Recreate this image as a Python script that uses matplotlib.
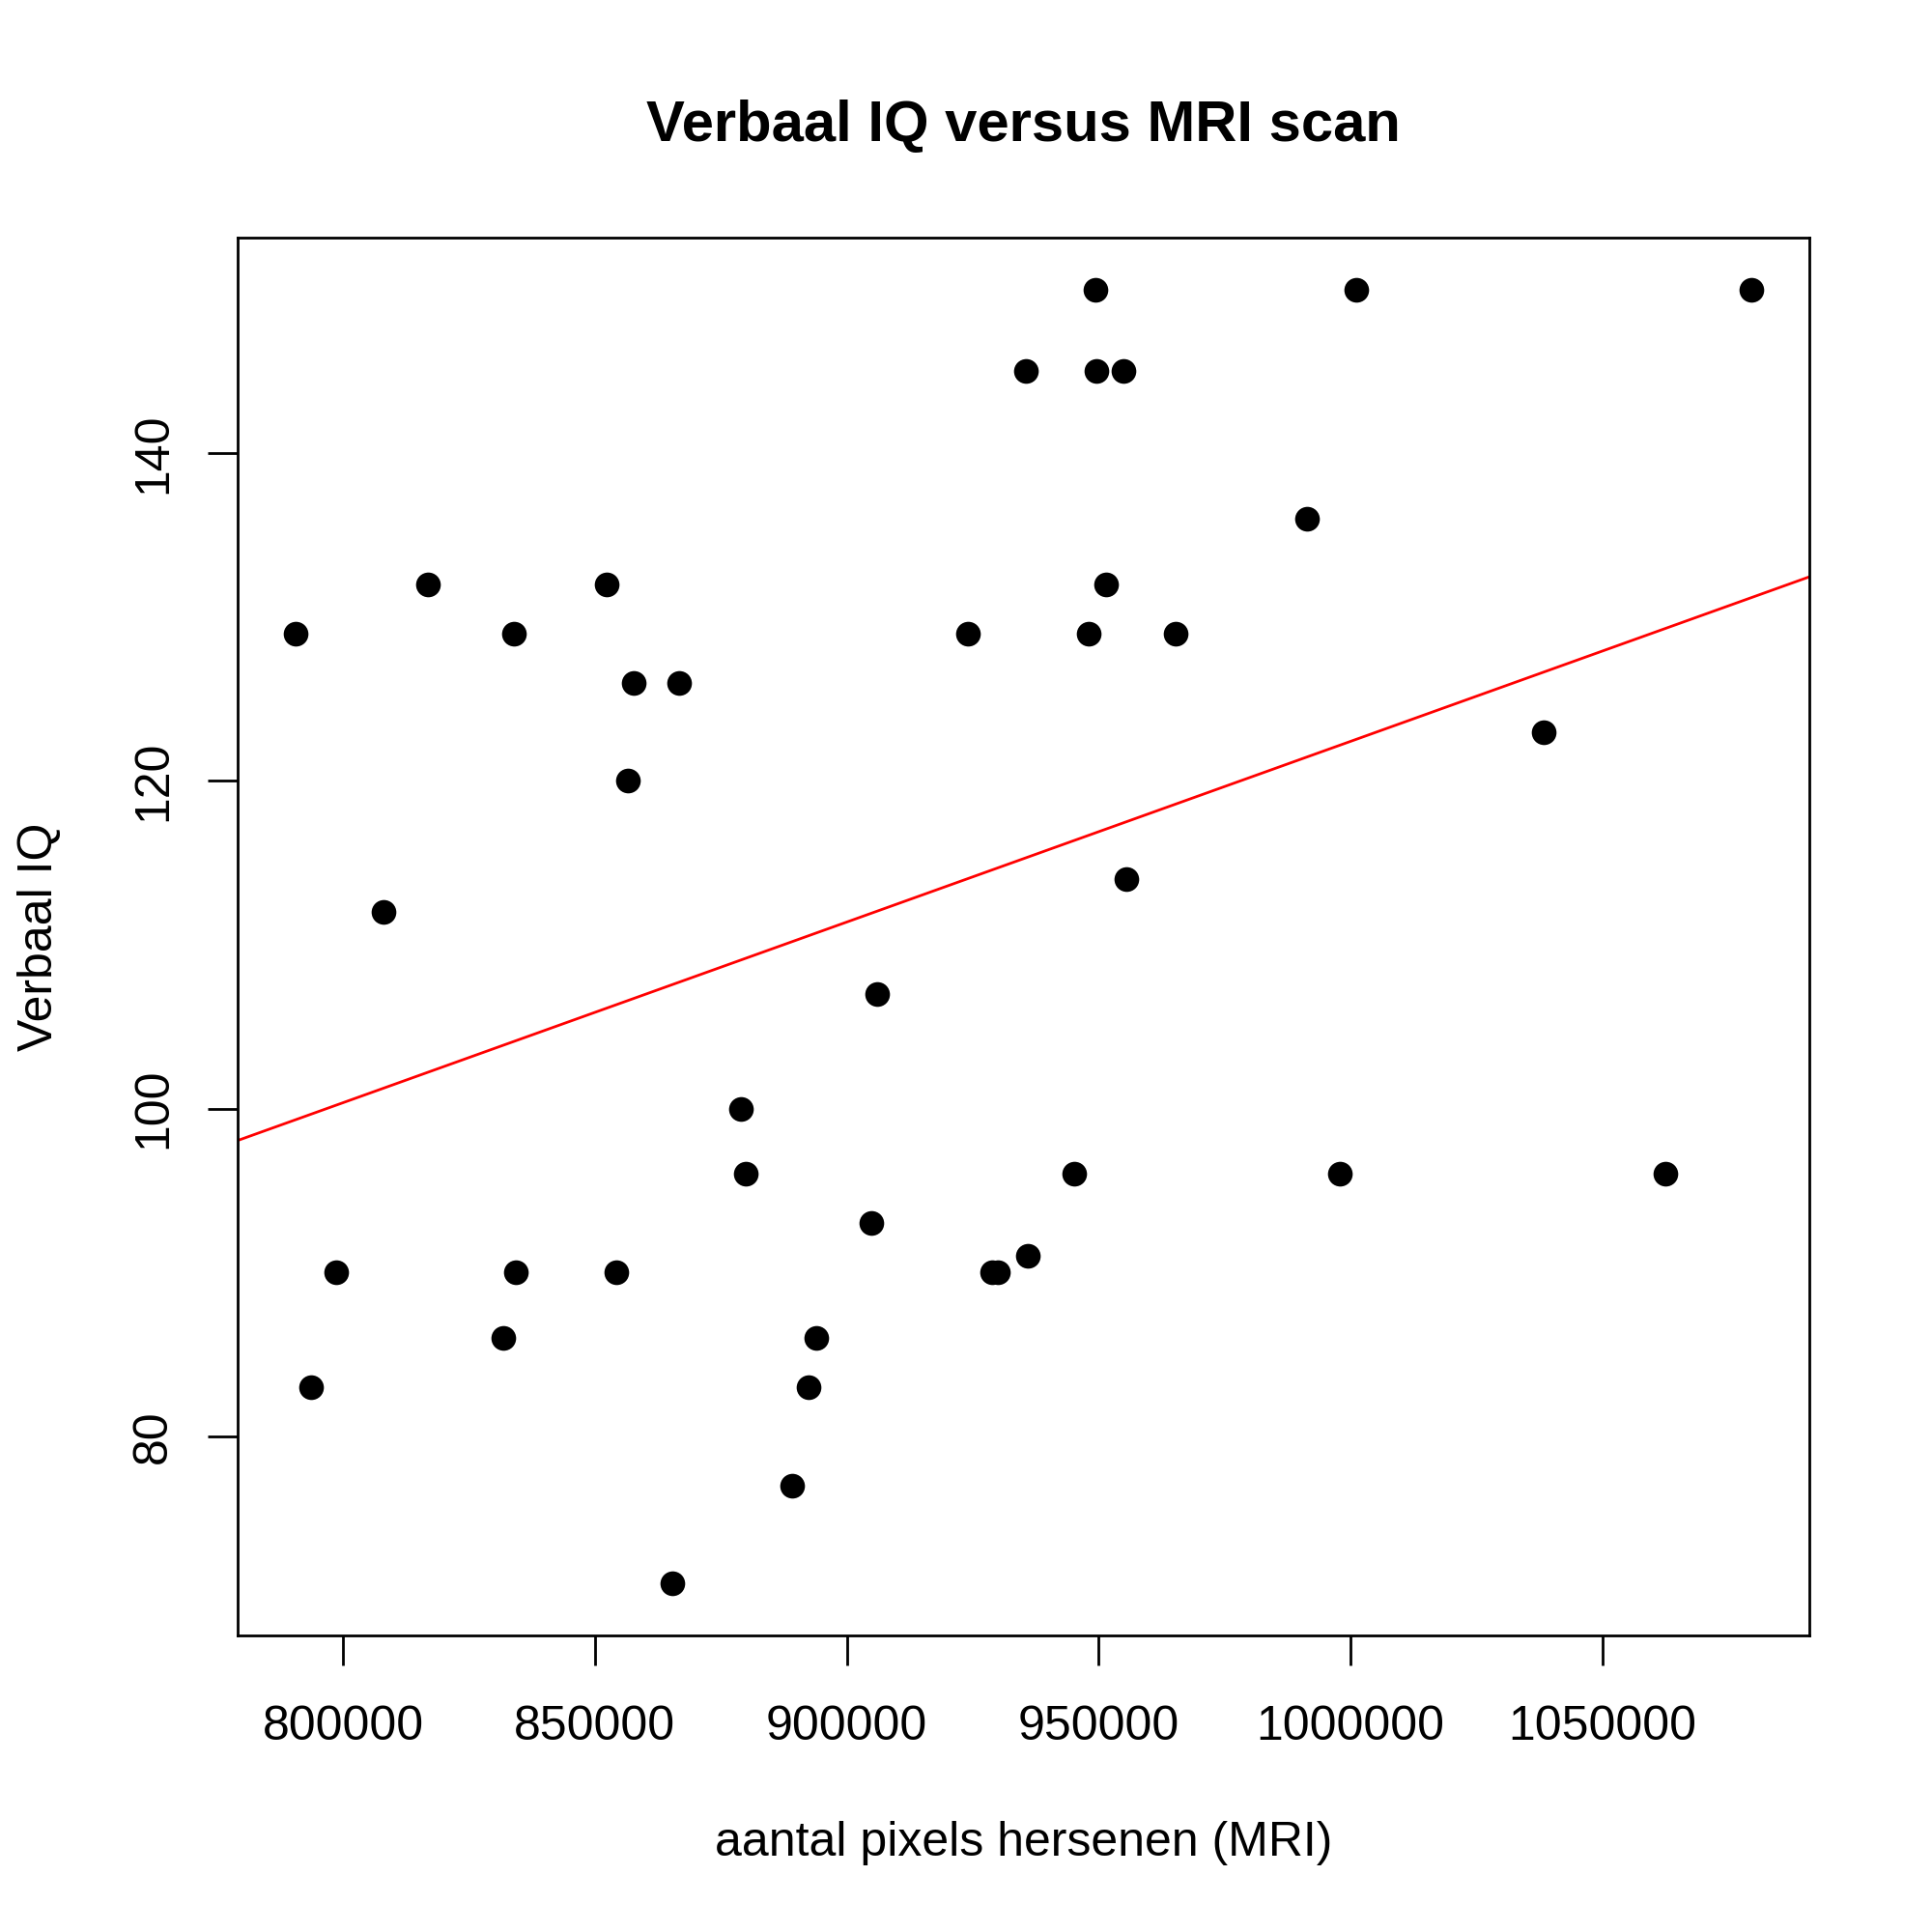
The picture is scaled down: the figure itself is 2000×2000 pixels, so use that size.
import numpy as np
import matplotlib
matplotlib.use("Agg")
import matplotlib.pyplot as plt

mri_count = [816932, 1001121, 1038437, 965353, 951545, 928799, 991305, 854258,
             904858, 955466, 833868, 1079549, 924059, 856472, 878897, 865363,
             852244, 945088, 808020, 889083, 892420, 905940, 790619, 955003,
             831772, 935494, 798612, 1062462, 793549, 866662, 857782, 949589,
             997925, 879987, 834344, 948066, 949395, 893983, 930016, 935863]
viq = [132, 150, 123, 129, 132, 90, 136, 90, 93, 114, 129, 150, 129, 120, 100, 71,
       132, 96, 112, 77, 83, 107, 129, 145, 86, 145, 90, 96, 83, 126, 126, 145,
       96, 96, 90, 129, 150, 86, 90, 91]
x_ticks = [800000, 850000, 900000, 950000, 1000000, 1050000]
y_ticks = [80, 100, 120, 140]

plt.rcParams['font.family'] = ['Liberation Sans', 'DejaVu Sans']

fig = plt.figure(figsize=(20, 20), dpi=100)
ax = fig.add_axes([0.123, 0.1535, 0.8135, 0.7235])

x = np.array(mri_count, dtype=float)
y = np.array(viq, dtype=float)
ax.scatter(x, y, s=340, color='black', zorder=3, linewidths=0)

xr = x.max() - x.min()
yr = y.max() - y.min()
xlim = (x.min() - 0.04 * xr, x.max() + 0.04 * xr)
ylim = (y.min() - 0.04 * yr, y.max() + 0.04 * yr)
ax.set_xlim(xlim)
ax.set_ylim(ylim)

slope, intercept = np.polyfit(x, y, 1)
xs = np.array(xlim)
ax.plot(xs, intercept + slope * xs, color='red', lw=2.0, zorder=2)

ax.set_xticks(x_ticks)
ax.set_xticklabels([str(t) for t in x_ticks])
ax.set_yticks(y_ticks)
ax.set_yticklabels([str(t) for t in y_ticks], rotation=90, va='center')
ax.tick_params(axis='both', length=22, width=2, labelsize=36, color='black')
ax.tick_params(axis='x', pad=30)
ax.tick_params(axis='y', pad=24)
for s in ax.spines.values():
    s.set_linewidth(2)

ax.set_xlabel('aantal pixels hersenen (MRI)', fontsize=36, labelpad=53)
ax.set_ylabel('Verbaal IQ', fontsize=36, labelpad=52)
ax.set_title('Verbaal IQ versus MRI scan', fontsize=43, fontweight='bold', pad=72)

fig.savefig('out.png', dpi=100)
